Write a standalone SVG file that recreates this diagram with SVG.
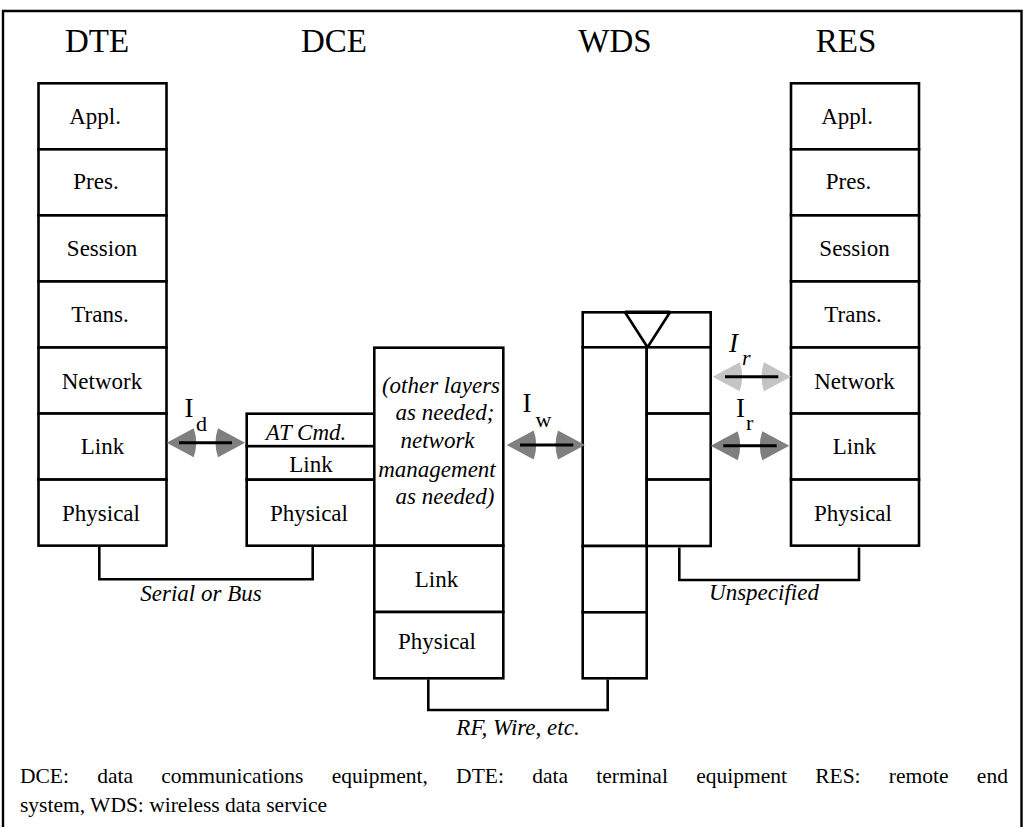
<svg xmlns="http://www.w3.org/2000/svg" width="1027" height="827" viewBox="0 0 1027 827">
  <style>
    .box { fill: #ffffff; stroke: #000000; stroke-width: 2.6; }
    .wire { fill: none; stroke: #000000; stroke-width: 2.6; }
    .frame { fill: none; stroke: #000000; stroke-width: 2.4; }
    .hdr { font-family: "Liberation Serif", "Times New Roman", serif; font-size: 33px; text-anchor: middle; fill: #000; }
    .lbl { font-family: "Liberation Serif", "Times New Roman", serif; font-size: 23px; text-anchor: middle; fill: #000; }
    .it { font-family: "Liberation Serif", "Times New Roman", serif; font-size: 23px; font-style: italic; text-anchor: middle; fill: #000; }
    .big { font-family: "Liberation Serif", "Times New Roman", serif; font-size: 27px; fill: #000; }
    .sub { font-family: "Liberation Serif", "Times New Roman", serif; font-size: 22px; fill: #000; }
    .cap { font-family: "Liberation Serif", "Times New Roman", serif; font-size: 21.5px; fill: #000; }
    .head-dark { fill: #7f7f7f; }
    .head-light { fill: #c4c4c4; }
    .shaft { stroke: #000000; stroke-width: 3; }
  </style>
  <defs>
    <!-- arrowhead pointing left, tip at the origin -->
    <path id="tipL" d="M0,0 L27,-14.5 Q32,0 27,14.5 Z"/>
  </defs>

  <rect x="0" y="0" width="1027" height="827" fill="#ffffff"/>
  <path class="frame" d="M3,830 V11 H1021.5 V830"/>

  <!-- DTE protocol stack -->
  <g id="dte">
    <text class="hdr" x="97" y="52">DTE</text>
    <rect class="box" x="38.5" y="83.3" width="128" height="66.05"/>
    <rect class="box" x="38.5" y="149.35" width="128" height="66.05"/>
    <rect class="box" x="38.5" y="215.4" width="128" height="66.05"/>
    <rect class="box" x="38.5" y="281.45" width="128" height="66.05"/>
    <rect class="box" x="38.5" y="347.5" width="128" height="66.05"/>
    <rect class="box" x="38.5" y="413.55" width="128" height="66.05"/>
    <rect class="box" x="38.5" y="479.6" width="128" height="66.05"/>
    <text class="lbl" x="95" y="124">Appl.</text>
    <text class="lbl" x="96" y="189">Pres.</text>
    <text class="lbl" x="102" y="256">Session</text>
    <text class="lbl" x="100" y="322">Trans.</text>
    <text class="lbl" x="102" y="389">Network</text>
    <text class="lbl" x="102.5" y="454">Link</text>
    <text class="lbl" x="101" y="521">Physical</text>
  </g>

  <!-- DCE: modem-side stack -->
  <g id="dce-port">
    <rect class="box" x="246.7" y="413.7" width="127.6" height="32.5"/>
    <rect class="box" x="246.7" y="446.2" width="127.6" height="33.5"/>
    <rect class="box" x="246.7" y="479.7" width="127.6" height="66"/>
    <text class="it" x="306" y="440">AT Cmd.</text>
    <text class="lbl" x="311" y="472">Link</text>
    <text class="lbl" x="309" y="521">Physical</text>
  </g>

  <!-- DCE: radio-side stack -->
  <g id="dce-radio">
    <text class="hdr" x="334" y="52">DCE</text>
    <rect class="box" x="374.3" y="347.7" width="129" height="198"/>
    <rect class="box" x="374.3" y="545.7" width="129" height="66.3"/>
    <rect class="box" x="374.3" y="612" width="129" height="66.3"/>
    <text class="it" x="441" y="393.3">(other layers</text>
    <text class="it" x="445" y="420">as needed;</text>
    <text class="it" x="437.5" y="448.3">network</text>
    <text class="it" x="437" y="476.7">management</text>
    <text class="it" x="445" y="504">as needed)</text>
    <text class="lbl" x="436.5" y="587">Link</text>
    <text class="lbl" x="437" y="649">Physical</text>
  </g>

  <!-- WDS -->
  <g id="wds">
    <text class="hdr" x="615" y="52">WDS</text>
    <rect class="box" x="582.7" y="312.3" width="128" height="35"/>
    <polygon class="box" points="625,312.3 670,312.3 647.5,347.3" fill="none"/>
    <line x1="625" y1="312.3" x2="670" y2="312.3" stroke="#000" stroke-width="3.4"/>
    <rect class="box" x="582.7" y="347.3" width="64" height="198.7"/>
    <rect class="box" x="582.7" y="546" width="64" height="66.3"/>
    <rect class="box" x="582.7" y="612.3" width="64" height="66"/>
    <rect class="box" x="646.7" y="347.3" width="64" height="66.3"/>
    <rect class="box" x="646.7" y="413.6" width="64" height="66"/>
    <rect class="box" x="646.7" y="479.6" width="64" height="66.4"/>
  </g>

  <!-- RES protocol stack -->
  <g id="res">
    <text class="hdr" x="846" y="52">RES</text>
    <rect class="box" x="791" y="83.3" width="128" height="66.05"/>
    <rect class="box" x="791" y="149.35" width="128" height="66.05"/>
    <rect class="box" x="791" y="215.4" width="128" height="66.05"/>
    <rect class="box" x="791" y="281.45" width="128" height="66.05"/>
    <rect class="box" x="791" y="347.5" width="128" height="66.05"/>
    <rect class="box" x="791" y="413.55" width="128" height="66.05"/>
    <rect class="box" x="791" y="479.6" width="128" height="66.05"/>
    <text class="lbl" x="847" y="124">Appl.</text>
    <text class="lbl" x="848.5" y="189">Pres.</text>
    <text class="lbl" x="854.5" y="256">Session</text>
    <text class="lbl" x="853" y="322">Trans.</text>
    <text class="lbl" x="854.5" y="389">Network</text>
    <text class="lbl" x="854.5" y="454">Link</text>
    <text class="lbl" x="853" y="521">Physical</text>
  </g>

  <!-- links and interfaces -->
  <g id="connectors">
    <path class="wire" d="M99.3,547 V579.3 H312.7 V547"/>
    <text class="it" x="201" y="601">Serial or Bus</text>

    <path class="wire" d="M428.3,679.5 V710 H607.7 V679.5"/>
    <text class="it" x="518" y="735">RF, Wire, etc.</text>

    <path class="wire" d="M679.3,547.5 V580 H859 V547.5"/>
    <text class="it" x="764" y="600">Unspecified</text>

    <!-- I_d -->
    <use href="#tipL" class="head-dark" transform="translate(166.7,442.7)"/>
    <use href="#tipL" class="head-dark" transform="translate(245,442.7) scale(-1,1)"/>
    <line class="shaft" x1="179" y1="442.7" x2="232" y2="442.7"/>
    <text class="big" x="184.5" y="417">I</text>
    <text class="sub" x="196" y="431">d</text>

    <!-- I_w -->
    <use href="#tipL" class="head-dark" transform="translate(506.7,445)"/>
    <use href="#tipL" class="head-dark" transform="translate(585,445) scale(-1,1)"/>
    <line class="shaft" x1="520" y1="445" x2="573.3" y2="445"/>
    <text class="big" x="522.5" y="411.7">I</text>
    <text class="sub" x="535.5" y="426.7">w</text>

    <!-- I_r (network level) -->
    <use href="#tipL" class="head-light" transform="translate(712.7,376.7)"/>
    <use href="#tipL" class="head-light" transform="translate(791,376.7) scale(-1,1)"/>
    <line class="shaft" x1="725" y1="376.7" x2="778.3" y2="376.7"/>
    <text class="big" x="729" y="351.7" font-style="italic">I</text>
    <text class="sub" x="742" y="365" font-style="italic">r</text>

    <!-- I_r (link level) -->
    <use href="#tipL" class="head-dark" transform="translate(710.7,445.7)"/>
    <use href="#tipL" class="head-dark" transform="translate(789.3,445.7) scale(-1,1)"/>
    <line class="shaft" x1="723.3" y1="445.7" x2="776.7" y2="445.7"/>
    <text class="big" x="736" y="417.3">I</text>
    <text class="sub" x="746" y="430">r</text>
  </g>

  <!-- legend -->
  <g id="legend">
    <text class="cap" x="20" y="783" word-spacing="22.9">DCE: data communications equipment, DTE: data terminal equipment RES: remote end</text>
    <text class="cap" x="20" y="812">system, WDS: wireless data service</text>
  </g>
</svg>
